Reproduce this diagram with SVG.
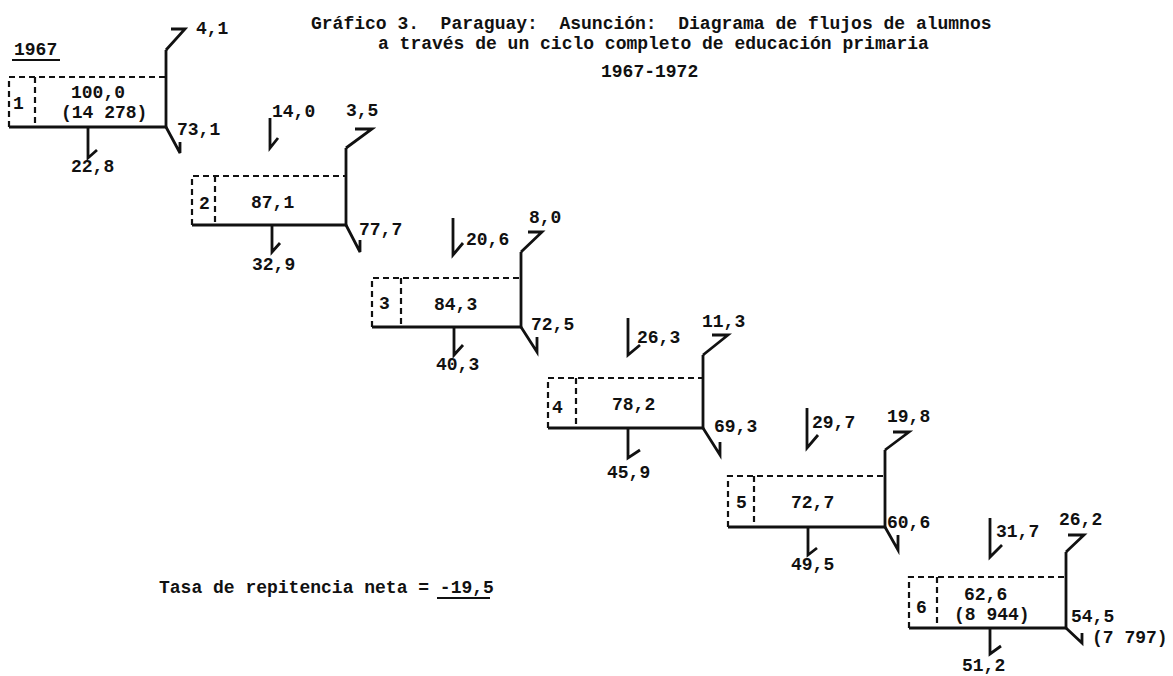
<svg xmlns="http://www.w3.org/2000/svg" width="1173" height="676" viewBox="0 0 1173 676">
<style>
text{font-family:"Liberation Mono","DejaVu Sans Mono",monospace;font-weight:bold;font-size:18px;fill:#111}
.d{fill:none;stroke:#111;stroke-width:2.2;stroke-dasharray:6 4}
.s{fill:none;stroke:#111;stroke-width:2.8;stroke-linejoin:miter}
.u{stroke:#111;stroke-width:1.8}
</style>
<rect width="1173" height="676" fill="#fff"/>
<g id="title">
<text x="311" y="29" xml:space="preserve">Gráfico 3.  Paraguay:  Asunción:  Diagrama de flujos de alumnos</text>
<text x="378" y="49" xml:space="preserve">a través de un ciclo completo de educación primaria</text>
<text x="601" y="77">1967-1972</text>
<text x="14" y="55">1967</text>
<line class="u" x1="12" y1="60" x2="60" y2="60"/>
</g>
<g id="box1">
<path class="d" d="M9,127 V77 H166 M35,77 V127"/>
<path class="s" d="M9,127 H166 V50"/>
<text x="13" y="109">1</text>
<text x="71" y="98">100,0</text>
<text x="61" y="118">(14 278)</text>
</g>
<g id="box2">
<path class="d" d="M192,225 V176 H346 M215,176 V225"/>
<path class="s" d="M192,225 H346 V148"/>
<text x="199" y="209">2</text>
<text x="251" y="208">87,1</text>
</g>
<g id="box3">
<path class="d" d="M372,327 V278 H521 M401,278 V327"/>
<path class="s" d="M372,327 H521 V252"/>
<text x="379" y="309">3</text>
<text x="434" y="310">84,3</text>
</g>
<g id="box4">
<path class="d" d="M548,428 V378 H703 M576,378 V428"/>
<path class="s" d="M548,428 H703 V355"/>
<text x="552" y="413">4</text>
<text x="612" y="410">78,2</text>
</g>
<g id="box5">
<path class="d" d="M728,527 V476 H885 M754,476 V527"/>
<path class="s" d="M728,527 H885 V450"/>
<text x="736" y="508">5</text>
<text x="791" y="508">72,7</text>
</g>
<g id="box6">
<path class="d" d="M909,628 V577 H1066 M937,577 V628"/>
<path class="s" d="M909,628 H1066 V552"/>
<text x="916" y="613">6</text>
<text x="964" y="600">62,6</text>
<text x="954" y="620">(8 944)</text>
</g>
<g id="connectors">
<path class="s" d="M166,50 L185,29 H171 M166,127 L180,153 V142 M88,127 V158 L97,150"/>
<path class="s" d="M270,118 V148 L278,138"/>
<path class="s" d="M346,148 L372,129 H355 M346,225 L360,252 V240 M272,225 V252 L280,243"/>
<path class="s" d="M453,218 V255 L463,243"/>
<path class="s" d="M521,252 L542,232 H528 M521,327 L537,352 V337 M454,327 V355 L463,345"/>
<path class="s" d="M628,318 V355 L640,345"/>
<path class="s" d="M703,355 L728,335 H712 M703,428 L720,455 V442 M628,428 V458 L640,450"/>
<path class="s" d="M807,408 V448 L818,435"/>
<path class="s" d="M885,450 L909,432 H893 M885,527 L898,550 V535 M808,527 V555 L817,548"/>
<path class="s" d="M990,518 V557 L1002,545"/>
<path class="s" d="M1066,552 L1084,535 H1068 M1066,628 L1082,643 V633 M990,628 V654 L1001,646"/>
</g>
<g id="labels">
<text x="196" y="34">4,1</text>
<text x="177" y="135">73,1</text>
<text x="71" y="172">22,8</text>
<text x="272" y="117">14,0</text>
<text x="346" y="116">3,5</text>
<text x="359" y="235">77,7</text>
<text x="252" y="270">32,9</text>
<text x="466" y="245">20,6</text>
<text x="529" y="223">8,0</text>
<text x="531" y="330">72,5</text>
<text x="436" y="370">40,3</text>
<text x="637" y="343">26,3</text>
<text x="702" y="327">11,3</text>
<text x="714" y="432">69,3</text>
<text x="607" y="478">45,9</text>
<text x="812" y="428">29,7</text>
<text x="887" y="422">19,8</text>
<text x="887" y="528">60,6</text>
<text x="791" y="570">49,5</text>
<text x="996" y="537">31,7</text>
<text x="1059" y="525">26,2</text>
<text x="1071" y="622">54,5</text>
<text x="1092" y="643">(7 797)</text>
<text x="962" y="671">51,2</text>
<text x="159" y="593">Tasa de repitencia neta = -19,5</text>
<line class="u" x1="437" y1="598" x2="490" y2="598"/>
</g>
</svg>
